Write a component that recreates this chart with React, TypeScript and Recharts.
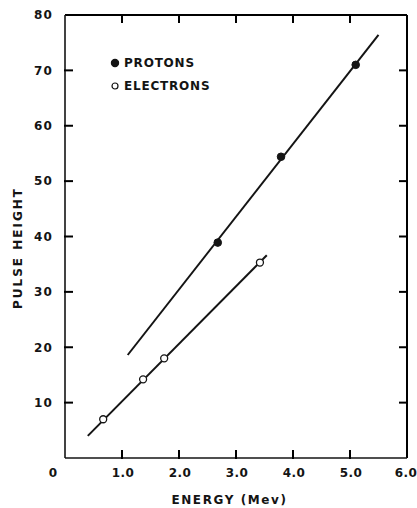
import { ComposedChart, Line, XAxis, YAxis, ReferenceLine } from "recharts";

// Pulse height vs. particle energy: measured points plus the hand-drawn
// straight-line fits for protons and electrons.

const X_TICKS = [0, 1, 2, 3, 4, 5, 6];
const Y_TICKS = [10, 20, 30, 40, 50, 60, 70, 80];
const X_MAX = 6;
const Y_MAX = 80;

const protonPoints = [
  { x: 2.68, y: 38.9 },
  { x: 3.79, y: 54.4 },
  { x: 5.1, y: 71.0 },
];
const electronPoints = [
  { x: 0.67, y: 7.0 },
  { x: 1.37, y: 14.2 },
  { x: 1.74, y: 18.0 },
  { x: 3.42, y: 35.3 },
];
const protonFit = [
  { x: 1.1, y: 18.6 },
  { x: 5.5, y: 76.4 },
];
const electronFit = [
  { x: 0.4, y: 4.0 },
  { x: 3.54, y: 36.6 },
];

const SERIES = [
  { name: "PROTONS", filled: true },
  { name: "ELECTRONS", filled: false },
];

const INK = "#141414";
const FONT = "'DejaVu Sans', sans-serif";

// chart geometry
const W = 417;
const H = 508;
const MARGIN = { top: 15, right: 10, bottom: 0, left: 0 };
const Y_AXIS_W = 65;
const X_AXIS_H = 50;
const PLOT_W = W - MARGIN.left - MARGIN.right - Y_AXIS_W;
const PLOT_H = H - MARGIN.top - MARGIN.bottom - X_AXIS_H;
const TICK_IN = 8; // tick length inside the box
const TICK_OUT = 1; // small overlap past the frame
const TICK_W = 2;
const X_SIZE = 4; // recharts tick size, bottom axis
const X_MARGIN = 6;
const Y_SIZE = 4;
const Y_MARGIN = 8;

// bottom labels + inward ticks on the bottom and top edges
const XTick = (props: any) => {
  const { x, y, payload } = props;
  const v = payload.value as number;
  const base = y - X_SIZE - X_MARGIN;
  const inner = v > 0 && v < X_MAX;
  const dx = v === 0 ? -12 : v === X_MAX ? -1 : 1;
  return (
    <g>
      {inner && (
        <line x1={x} y1={base + TICK_OUT} x2={x} y2={base - TICK_IN} stroke="#000" strokeWidth={TICK_W} />
      )}
      {inner && (
        <line
          x1={x}
          y1={base - PLOT_H - TICK_OUT}
          x2={x}
          y2={base - PLOT_H + TICK_IN}
          stroke="#000"
          strokeWidth={TICK_W}
        />
      )}
      <text
        x={x + dx}
        y={y}
        dy="0.71em"
        textAnchor="middle"
        fill={INK}
        fontSize={12}
        fontWeight="bold"
        letterSpacing={0.4}
        fontFamily={FONT}
      >
        {v === 0 ? "0" : v.toFixed(1)}
      </text>
    </g>
  );
};

// left labels + inward ticks on the left and right edges
const YTick = (props: any) => {
  const { x, y, payload } = props;
  const v = payload.value as number;
  const base = x + Y_SIZE + Y_MARGIN;
  return (
    <g>
      {v < Y_MAX && (
        <line x1={base - TICK_OUT} y1={y} x2={base + TICK_IN} y2={y} stroke="#000" strokeWidth={TICK_W} />
      )}
      {v < Y_MAX && (
        <line
          x1={base + PLOT_W + TICK_OUT}
          y1={y}
          x2={base + PLOT_W - TICK_IN}
          y2={y}
          stroke="#000"
          strokeWidth={TICK_W}
        />
      )}
      <text
        x={x}
        y={y}
        dy="0.36em"
        textAnchor="end"
        fill={INK}
        fontSize={12}
        fontWeight="bold"
        letterSpacing={1.2}
        fontFamily={FONT}
      >
        {v}
      </text>
    </g>
  );
};

const textStyle = {
  position: "absolute" as const,
  fontFamily: FONT,
  fontSize: 12,
  fontWeight: "bold" as const,
  color: INK,
  whiteSpace: "nowrap" as const,
  lineHeight: "14px",
};

export default function App() {
  return (
    <div style={{ position: "absolute", left: 0, top: 0, width: W, height: H, background: "#fff" }}>
      <ComposedChart width={W} height={H} margin={MARGIN}>
        <XAxis
          type="number"
          dataKey="x"
          domain={[0, X_MAX]}
          ticks={X_TICKS}
          height={X_AXIS_H}
          stroke={INK}
          axisLine={{ stroke: INK, strokeWidth: 1.6 }}
          tickLine={{ stroke: "#fff", strokeWidth: 0 }}
          tickSize={X_SIZE}
          tickMargin={X_MARGIN}
          tick={<XTick />}
        />
        <YAxis
          type="number"
          dataKey="y"
          domain={[0, Y_MAX]}
          ticks={Y_TICKS}
          width={Y_AXIS_W}
          stroke={INK}
          axisLine={{ stroke: INK, strokeWidth: 1.6 }}
          tickLine={{ stroke: "#fff", strokeWidth: 0 }}
          tickSize={Y_SIZE}
          tickMargin={Y_MARGIN}
          tick={<YTick />}
        />
        <ReferenceLine y={Y_MAX} stroke="#000" strokeWidth={2} />
        <ReferenceLine x={X_MAX} stroke="#000" strokeWidth={2} />

        <Line data={protonFit} dataKey="y" stroke={INK} strokeWidth={2} dot={false} isAnimationActive={false} />
        <Line data={electronFit} dataKey="y" stroke={INK} strokeWidth={2} dot={false} isAnimationActive={false} />
        <Line
          data={protonPoints}
          dataKey="y"
          stroke="none"
          dot={{ r: 3.8, fill: INK, stroke: INK, strokeWidth: 1 }}
          isAnimationActive={false}
        />
        <Line
          data={electronPoints}
          dataKey="y"
          stroke="none"
          dot={{ r: 3.5, fill: "#fff", stroke: INK, strokeWidth: 1.3 }}
          isAnimationActive={false}
        />
      </ComposedChart>

      {/* legend */}
      <div style={{ ...textStyle, left: 110, top: 51, letterSpacing: 0.8 }}>
        {SERIES.map((s) => (
          <div key={s.name} style={{ display: "flex", alignItems: "center", height: 23 }}>
            <svg width={10} height={10} style={{ marginRight: 4 }}>
              <circle cx={5} cy={5} r={s.filled ? 3.6 : 3} fill={s.filled ? INK : "#fff"} stroke={INK} strokeWidth={1.2} />
            </svg>
            {s.name}
          </div>
        ))}
      </div>

      {/* axis titles */}
      <div style={{ ...textStyle, left: 0, width: W - 8, top: 493, textAlign: "center", letterSpacing: 1.6, paddingLeft: 50, boxSizing: "border-box" }}>
        ENERGY (Mev)
      </div>
      <div
        style={{
          ...textStyle,
          left: 18,
          top: 248,
          letterSpacing: 2,
          transform: "translate(-50%, -50%) rotate(-90deg)",
        }}
      >
        PULSE HEIGHT
      </div>
    </div>
  );
}
